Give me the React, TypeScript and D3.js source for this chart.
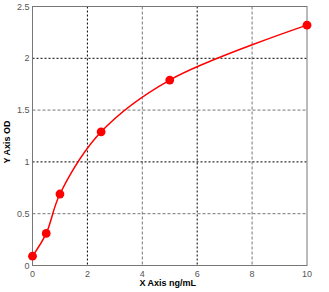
import React from "react";
import * as d3 from "d3";

const xValues = [0, 0.5, 1, 2.5, 5, 10];
const yValues = [0.09, 0.31, 0.69, 1.29, 1.79, 2.32];
const xTicks = [0, 2, 4, 6, 8, 10];
const xTickLabels = ["0", "2", "4", "6", "8", "10"];
const yTicks = [0, 0.5, 1, 1.5, 2, 2.5];
const yTickLabels = ["0", "0.5", "1", "1.5", "2", "2.5"];
const xTitle = "X Axis ng/mL";
const yTitle = "Y Axis OD";

export default function App() {
  const W = 329, H = 292;
  const left = 32.5, right = 307, top = 6.5, bottom = 265.5;
  const x = d3.scaleLinear().domain([0, 10]).range([left, right]);
  const y = d3.scaleLinear().domain([0, 2.5]).range([bottom, top]);
  const pts = xValues.map((v, i) => [v, yValues[i]] as [number, number]);
  const line = d3.line<[number, number]>().x(d => x(d[0])).y(d => y(d[1])).curve(d3.curveCatmullRom.alpha(0.5));
  const font = "'Liberation Sans', Arial, sans-serif";
  return (
    <svg width={W} height={H} style={{ position: "absolute", left: 0, top: 0, background: "#fff" }}>
      {xTicks.slice(1, -1).map((t, i) => (
        <line key={"gx" + i} x1={x(t)} x2={x(t)} y1={top} y2={bottom}
          stroke={i % 2 === 0 ? "#000" : "#777"} strokeWidth={1} strokeDasharray={i % 2 === 0 ? "2,2" : "3,2"} />
      ))}
      {yTicks.slice(1, -1).map((t, i) => (
        <line key={"gy" + i} x1={left} x2={right} y1={y(t)} y2={y(t)}
          stroke={i % 2 === 0 ? "#777" : "#000"} strokeWidth={1} strokeDasharray={i % 2 === 0 ? "3,2" : "2,2"} />
      ))}
      <rect x={left} y={top} width={right - left} height={bottom - top} fill="none" stroke="#777" strokeWidth={1} />
      <path d={line(pts) || ""} fill="none" stroke="#ff0000" strokeWidth={1.5} />
      {pts.map((p, i) => (
        <circle key={"p" + i} cx={x(p[0])} cy={y(p[1])} r={4.4} fill="#ff0000" />
      ))}
      {xTicks.map((t, i) => (
        <text key={"xt" + i} x={x(t)} y={bottom + 11} fontSize={9} fontFamily={font} fill="#555" textAnchor="middle">{xTickLabels[i]}</text>
      ))}
      {yTicks.map((t, i) => (
        <text key={"yt" + i} x={left - 3} y={y(t) + 3} fontSize={9} fontFamily={font} fill="#555" textAnchor="end">{yTickLabels[i]}</text>
      ))}
      <text x={(left + right) / 2 - 2} y={286} fontSize={9} fontFamily={font} fontWeight="bold" fill="#000" textAnchor="middle">{xTitle}</text>
      <text transform={`translate(10, ${(top + bottom) / 2 + 6}) rotate(-90)`} fontSize={9} fontFamily={font} fontWeight="bold" fill="#000" textAnchor="middle">{yTitle}</text>
    </svg>
  );
}
